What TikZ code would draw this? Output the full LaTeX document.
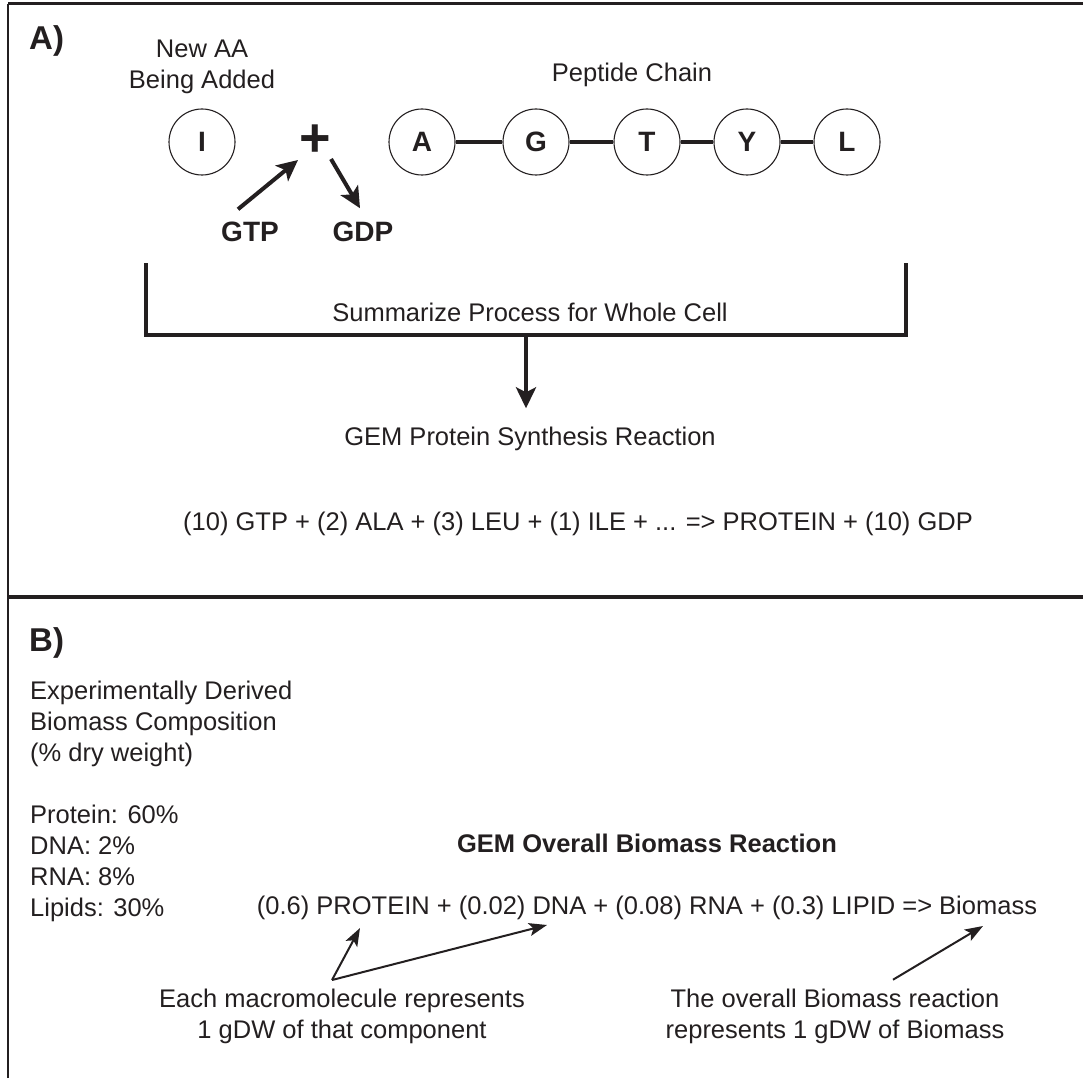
\documentclass[tikz,border=0pt]{standalone}
\usepackage{fontspec}
\setmainfont{Liberation Sans}
\usetikzlibrary{arrows.meta}
\definecolor{ink}{RGB}{35,31,32}

\begin{document}
\begin{tikzpicture}[x=1pt,y=-1pt,
    every node/.style={inner sep=0pt,text=ink},
    font=\fontsize{25.5}{31}\selectfont,
    aa/.style={draw=ink,circle,minimum size=66pt,line width=1.1pt,font=\fontsize{28}{32}\selectfont\bfseries},
    link/.style={draw=ink,line width=4pt},
    fatarrow/.style={draw=ink,line width=4pt,-{Stealth[length=21pt,width=20pt,inset=5pt]}},
    thinarrow/.style={draw=ink,line width=2pt,-{Stealth[length=18pt,width=13pt,inset=4pt]}},
    bigbold/.style={font=\fontsize{33}{36}\selectfont\bfseries},
    midbold/.style={font=\fontsize{28}{32}\selectfont\bfseries}]
  \useasboundingbox (0,0) rectangle (1083,1078);

  % frame of the two panels
  \draw[ink,line width=2.5pt] (8,1078)--(8,4);
  \draw[ink,line width=3pt] (8,4)--(1083,4);
  \draw[ink,line width=4.5pt] (8,597)--(1083,597);

  % A) one amino acid added to the chain
  \node[bigbold,anchor=base west] (labA) at (29,50) {A)};
  \node[anchor=north,align=center] (newaa) at (202,39.7) {New AA\\Being Added};
  \node[anchor=base] (chainlbl) at (632,82) {Peptide Chain};

  \node[aa] (I) at (202,142) {I};
  \node[font=\fontsize{54}{54}\selectfont\bfseries] (plus) at (315,141) {+};

  \node[aa] (A) at (422,142) {A};
  \node[aa] (G) at (536,142) {G};
  \node[aa] (T) at (647,142) {T};
  \node[aa] (Y) at (747,142) {Y};
  \node[aa] (L) at (847,142) {L};
  \draw[link] (A)--(G) (G)--(T) (T)--(Y) (Y)--(L);

  \node[midbold,anchor=base] (gtp) at (250,241) {GTP};
  \node[midbold,anchor=base] (gdp) at (363,241) {GDP};
  \draw[fatarrow] ([shift={(-12pt,12pt)}]gtp.north) -- ([shift={(-17pt,-19pt)}]plus.center);
  \draw[fatarrow] ([shift={(16pt,-18pt)}]plus.center) -- ([shift={(-3pt,13pt)}]gdp.north);

  % bracket over the whole cell
  \draw[link] (146,263) -- (146,335) -- (906,335) -- (906,263);
  \coordinate (brk) at (526,335);
  \node[anchor=base] (summ) at (530,321) {Summarize Process for Whole Cell};
  \node[anchor=base] (gemprot) at (530,445) {GEM Protein Synthesis Reaction};
  \draw[fatarrow,shorten >=18pt] (brk) -- (brk |- gemprot.north);

  \node[anchor=base] (protrxn) at (578,530) {(10) GTP + (2) ALA + (3) LEU + (1) ILE + ... => PROTEIN + (10) GDP};

  % B) biomass reaction
  \node[bigbold,anchor=base west] (labB) at (29,651) {B)};
  \node[anchor=north west,align=left] (comp) at (30,680.7)
    {Experimentally Derived\\Biomass Composition\\(\% dry weight)\\[31pt]Protein: 60\%\\DNA: 2\%\\RNA: 8\%\\Lipids: 30\%};

  \node[anchor=base,font=\fontsize{25.5}{31}\selectfont\bfseries] (gemlbl) at (647,852) {GEM Overall Biomass Reaction};
  \node[anchor=base] (biorxn) at (647,914) {(0.6) PROTEIN + (0.02) DNA + (0.08) RNA + (0.3) LIPID => Biomass};

  \node[anchor=north,align=center] (eachlbl) at (342,988.7) {Each macromolecule represents\\1 gDW of that component};
  \node[anchor=north,align=center] (overlbl) at (835,988.7) {The overall Biomass reaction\\represents 1 gDW of Biomass};

  \coordinate (eachtail) at ([shift={(-10pt,8.7pt)}]eachlbl.north);
  \coordinate (prottip) at (360,928);
  \coordinate (dnatip) at (547,925);
  \coordinate (biotip) at (983,926);
  \draw[thinarrow] (eachtail) -- (prottip);
  \draw[thinarrow] (eachtail) -- (dnatip);
  \draw[thinarrow] ([shift={(58pt,9pt)}]overlbl.north) -- (biotip);
\end{tikzpicture}
\end{document}
